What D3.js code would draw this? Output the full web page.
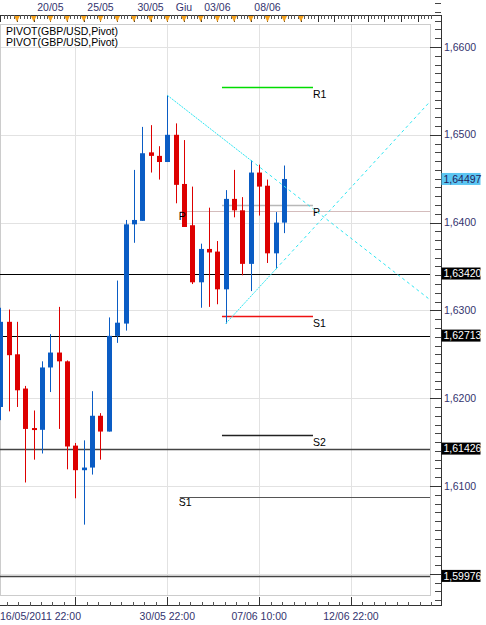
<!DOCTYPE html>
<html>
<head>
  <script src="https://d3js.org/d3.v7.min.js"></script>
  <style>
    html, body {
      margin: 0px;
      padding: 0px;
      background: #fff;
      font-family: "Liberation Sans", Arial, sans-serif;
    }
    .tick-label { font-size: 10.5px; fill: #33336e; }
    .lvl-label { font-size: 10.5px; fill: #000; }
  </style>
</head>
<body>
  <div id="chart"></div>
  <script>
    // 12h candles GBP/USD (index 0 = first candle)
    const open  = [1.6190,1.6287,1.6250,1.6211,1.6166,1.6164,1.6235,1.6252,1.6242,1.6146,
                   1.6118,1.6121,1.6180,1.6162,1.6271,1.6285,1.6398,1.6402,1.6480,1.6476,
                   1.6469,1.6500,1.6444,1.6397,1.6332,1.6370,1.6367,1.6324,1.6427,1.6414,
                   1.6353,1.6457,1.6442,1.6365,1.6400];
    const high  = [1.6303,1.6301,1.6287,1.6214,1.6186,1.6242,1.6273,1.6304,1.6243,1.6149,
                   1.6152,1.6208,1.6183,1.6292,1.6334,1.6403,1.6460,1.6509,1.6511,1.6487,
                   1.6545,1.6513,1.6494,1.6441,1.6376,1.6417,1.6379,1.6437,1.6460,1.6429,
                   1.6471,1.6466,1.6449,1.6412,1.6465];
    const low   = [1.6175,1.6185,1.6190,1.6104,1.6130,1.6137,1.6207,1.6165,1.6119,1.6086,
                   1.6056,1.6113,1.6130,1.6162,1.6263,1.6277,1.6377,1.6402,1.6457,1.6449,
                   1.6469,1.6422,1.6395,1.6330,1.6303,1.6304,1.6307,1.6285,1.6406,1.6340,
                   1.6322,1.6408,1.6354,1.6347,1.6388];
    const close = [1.6287,1.6249,1.6209,1.6165,1.6164,1.6235,1.6252,1.6242,1.6145,1.6118,
                   1.6121,1.6180,1.6162,1.6271,1.6286,1.6398,1.6403,1.6479,1.6476,1.6469,
                   1.6500,1.6443,1.6395,1.6332,1.6370,1.6366,1.6324,1.6427,1.6414,1.6353,
                   1.6457,1.6441,1.6365,1.6400,1.64497];

    // price axis
    const priceTicks = [1.60, 1.61, 1.62, 1.63, 1.64, 1.65, 1.66];
    const markedLevels = [1.63420, 1.62713, 1.61426, 1.59976];
    const lastPrice = 1.64497;

    // time axes (positions in candle index units)
    const bottomTickIdx = [9, 20, 31, 42];
    const bottomLabels = [
      {idx: 0, text: "16/05/2011 22:00", anchor: "start"},
      {idx: 20, text: "30/05 22:00", anchor: "middle"},
      {idx: 31, text: "07/06 10:00", anchor: "middle"},
      {idx: 42, text: "12/06 22:00", anchor: "middle"}
    ];
    const topLabels = ["20/05", "25/05", "30/05", "Giu", "03/06", "08/06"];
    const topLabelIdx = [6, 12, 18, 22, 26, 32];

    // pivot sets
    const pivotNames  = ["R1", "P", "S1", "S2"];
    const pivotValues = [1.65544, 1.64195, 1.62936, 1.61581];
    const pivotColors = ["rgb(0,220,0)", "rgb(184,184,184)", "rgb(238,17,17)", "rgb(34,34,34)"];
    const pivotAfrom = 26.55, pivotAto = 37.45;
    const pivotBNames  = ["P", "S1"];
    const pivotBValues = [1.64133, 1.60876];
    const pivotBColors = ["rgb(212,188,188)", "rgb(85,85,85)"];
    const pivotBfrom = 21.5;

    // trend lines: [start candle, end candle, field]
    const trends = [[20, 30, "high"], [27, 33, "low"]];

    const width = 486, height = 625;
    const plot = {left: 0, right: 430, top: 25, bottom: 596};
    const axisX = 441;

    const svg = d3.select("#chart").append("svg")
      .attr("width", width).attr("height", height);

    const xScale = d3.scaleLinear().domain([0, 51.5]).range([0.3, 430.3]);
    const yScale = d3.scaleLinear().domain([1.60, 1.66]).range([573.8, 47]);
    const fmt4 = v => d3.format(".4f")(v).replace(".", ",");
    const fmt5 = v => d3.format(".5f")(v).replace(".", ",");
    const crisp = v => Math.round(v) + 0.5;

    svg.append("clipPath").attr("id", "clip")
      .append("rect")
      .attr("x", plot.left).attr("y", plot.top)
      .attr("width", plot.right - plot.left).attr("height", plot.bottom - plot.top);

    // gridlines
    const grid = svg.append("g").attr("stroke", "#e2e2e2").attr("stroke-width", 1);
    grid.selectAll("line.hg").data(priceTicks).enter().append("line")
      .attr("class", "hg")
      .attr("x1", plot.left).attr("x2", plot.right)
      .attr("y1", d => crisp(yScale(d))).attr("y2", d => crisp(yScale(d)));
    grid.selectAll("line.vg").data(bottomTickIdx).enter().append("line")
      .attr("class", "vg")
      .attr("x1", d => crisp(xScale(d))).attr("x2", d => crisp(xScale(d)))
      .attr("y1", plot.top).attr("y2", plot.bottom);

    // frame
    svg.append("rect")
      .attr("x", plot.left + 0.5).attr("y", plot.top - 0.5)
      .attr("width", plot.right - plot.left).attr("height", plot.bottom - plot.top)
      .attr("fill", "none").attr("stroke", "#cccccc");

    const g = svg.append("g").attr("clip-path", "url(#clip)");

    // marked horizontal levels
    g.selectAll("line.lvl").data(markedLevels).enter().append("line")
      .attr("class", "lvl")
      .attr("x1", plot.left).attr("x2", plot.right)
      .attr("y1", d => crisp(yScale(d))).attr("y2", d => crisp(yScale(d)))
      .attr("stroke", (d, i) => i < 2 ? "#000" : "#444")
      .attr("stroke-width", (d, i) => i < 2 ? 1 : 1.6);

    // pivot set B (long lines)
    pivotBValues.forEach((v, i) => {
      g.append("line")
        .attr("x1", xScale(pivotBfrom)).attr("x2", plot.right)
        .attr("y1", crisp(yScale(v))).attr("y2", crisp(yScale(v)))
        .style("stroke", pivotBColors[i]);
    });

    // pivot set A (short segments)
    pivotValues.forEach((v, i) => {
      g.append("line")
        .attr("x1", xScale(pivotAfrom)).attr("x2", xScale(pivotAto))
        .attr("y1", crisp(yScale(v))).attr("y2", crisp(yScale(v)))
        .style("stroke", pivotColors[i]).style("stroke-width", 1.3);
    });

    // candles
    const idx = d3.range(open.length);
    const upCol = "#0a5cc4", downCol = "#dd0000";
    const col = i => close[i] >= open[i] ? upCol : downCol;
    g.selectAll("line.wick").data(idx).enter().append("line")
      .attr("class", "wick")
      .attr("x1", i => crisp(xScale(i))).attr("x2", i => crisp(xScale(i)))
      .attr("y1", i => yScale(high[i])).attr("y2", i => yScale(low[i]))
      .attr("stroke", col).attr("stroke-width", 1);
    g.selectAll("rect.body").data(idx).enter().append("rect")
      .attr("class", "body")
      .attr("x", i => Math.round(xScale(i)) - 2)
      .attr("width", 5)
      .attr("y", i => yScale(Math.max(open[i], close[i])))
      .attr("height", i => Math.max(2, Math.abs(yScale(open[i]) - yScale(close[i]))))
      .attr("fill", col);

    // pivot labels on top of candles
    pivotBValues.forEach((v, i) => {
      g.append("text").attr("class", "lvl-label")
        .attr("x", xScale(pivotBfrom) - 1).attr("y", yScale(v) + 9)
        .text(pivotBNames[i]);
    });
    pivotValues.forEach((v, i) => {
      g.append("text").attr("class", "lvl-label")
        .attr("x", xScale(pivotAto)).attr("y", yScale(v) + 11)
        .text(pivotNames[i]);
    });

    // trend lines
    const cyan = "#2ee6f2";
    const series = {high: high, low: low};
    trends.forEach(([a, b, f]) => {
      const v = series[f];
      const slope = (v[b] - v[a]) / (b - a);
      const xEnd = xScale.domain()[1];
      g.append("line")
        .attr("x1", xScale(a)).attr("y1", yScale(v[a]))
        .attr("x2", xScale(b)).attr("y2", yScale(v[b]))
        .attr("stroke", cyan).attr("stroke-width", 1).attr("stroke-dasharray", "2,1");
      g.append("line")
        .attr("x1", xScale(b)).attr("y1", yScale(v[b]))
        .attr("x2", xScale(xEnd)).attr("y2", yScale(v[b] + slope * (xEnd - b)))
        .attr("stroke", cyan).attr("stroke-width", 1).attr("stroke-dasharray", "3,3");
    });

    // legend
    ["PIVOT(GBP/USD,Pivot)", "PIVOT(GBP/USD,Pivot)"].forEach((t, i) => {
      svg.append("text").attr("x", 6).attr("y", 35 + i * 10.5)
        .attr("font-size", "10.5px").attr("fill", "#000").text(t);
    });

    // top axis
    const topAxis = svg.append("g");
    topAxis.append("line").attr("x1", 0).attr("x2", axisX + 0.5)
      .attr("y1", 15.5).attr("y2", 15.5).attr("stroke", "#333");
    const topMinor = d3.range(0, 52, 0.4);
    topAxis.selectAll("line.tm").data(topMinor).enter().append("line")
      .attr("class", "tm")
      .attr("x1", d => crisp(xScale(d))).attr("x2", d => crisp(xScale(d)))
      .attr("y1", 15).attr("y2", 19).attr("stroke", "#555");
    const topMajor = d3.range(0, 52, 2);
    topAxis.selectAll("line.tj").data(topMajor).enter().append("line")
      .attr("class", "tj")
      .attr("x1", d => crisp(xScale(d))).attr("x2", d => crisp(xScale(d)))
      .attr("y1", 15).attr("y2", 22).attr("stroke", "#333");
    const markers = d3.range(2, 37, 2);
    topAxis.selectAll("path.mk").data(markers).enter().append("path")
      .attr("class", "mk")
      .attr("d", d => { const x = xScale(d); return `M${x - 2.8},16 L${x + 2.8},16 L${x},22 Z`; })
      .attr("fill", "#f5a21e");
    topAxis.selectAll("text.tl").data(topLabels).enter().append("text")
      .attr("class", "tick-label tl")
      .attr("x", (d, i) => xScale(topLabelIdx[i]))
      .attr("y", 11).attr("text-anchor", "middle")
      .text(d => d);
    topAxis.append("line").attr("x1", crisp(axisX)).attr("x2", crisp(axisX))
      .attr("y1", 15).attr("y2", 22).attr("stroke", "#333");

    // bottom axis
    const bottom = svg.append("g");
    bottom.append("line").attr("x1", 0).attr("x2", axisX + 0.5)
      .attr("y1", 605.5).attr("y2", 605.5).attr("stroke", "#333");
    const bottomMinor = d3.range(-2, 52, 11 / 8);
    bottom.selectAll("line.bm").data(bottomMinor).enter().append("line")
      .attr("class", "bm")
      .attr("x1", d => crisp(xScale(d))).attr("x2", d => crisp(xScale(d)))
      .attr("y1", 602).attr("y2", 606).attr("stroke", "#555");
    bottom.selectAll("line.bj").data(bottomTickIdx).enter().append("line")
      .attr("class", "bj")
      .attr("x1", d => crisp(xScale(d))).attr("x2", d => crisp(xScale(d)))
      .attr("y1", 597).attr("y2", 606).attr("stroke", "#333");
    bottom.selectAll("text.bl").data(bottomLabels).enter().append("text")
      .attr("class", "tick-label bl")
      .attr("x", d => d.anchor === "start" ? 0 : xScale(d.idx))
      .attr("y", 620).attr("text-anchor", d => d.anchor)
      .text(d => d.text);

    // right axis
    const right = svg.append("g");
    right.append("line").attr("x1", crisp(axisX)).attr("x2", crisp(axisX))
      .attr("y1", 15).attr("y2", 606).attr("stroke", "#333");
    const minorPrices = d3.range(1597, 1667).map(v => v / 1000);
    right.selectAll("line.rm").data(minorPrices).enter().append("line")
      .attr("class", "rm")
      .attr("x1", axisX - 6).attr("x2", axisX)
      .attr("y1", d => crisp(yScale(d))).attr("y2", d => crisp(yScale(d)))
      .attr("stroke", "#444");
    right.selectAll("line.rj").data(priceTicks).enter().append("line")
      .attr("class", "rj")
      .attr("x1", plot.right).attr("x2", axisX)
      .attr("y1", d => crisp(yScale(d))).attr("y2", d => crisp(yScale(d)))
      .attr("stroke", "#333");
    // boxed labels hide the plain tick labels they cover
    const boxed = markedLevels.concat([lastPrice]);
    const freeTicks = priceTicks.filter(p =>
      boxed.every(b => Math.abs(yScale(p) - yScale(b)) > 12));
    right.selectAll("text.rl").data(freeTicks).enter().append("text")
      .attr("class", "tick-label rl")
      .attr("x", axisX + 3).attr("y", d => yScale(d)).attr("dy", "0.35em")
      .text(d => fmt4(d));

    const boxes = markedLevels.map(v => ({v: v, bg: "#000", fg: "#fff"}))
      .concat([{v: lastPrice, bg: "#5cc6f2", fg: "#22225a"}]);
    const bx = right.selectAll("g.bx").data(boxes).enter().append("g")
      .attr("class", "bx")
      .attr("transform", d => `translate(${axisX + 0.5},${yScale(d.v)})`);
    bx.append("rect").attr("x", 0).attr("y", -6).attr("width", 39).attr("height", 12)
      .attr("fill", d => d.bg);
    bx.append("text").attr("x", 2).attr("y", 0).attr("dy", "0.35em")
      .attr("font-size", "10.5px").attr("fill", d => d.fg)
      .text(d => fmt5(d.v));
  </script>
</body>
</html>
